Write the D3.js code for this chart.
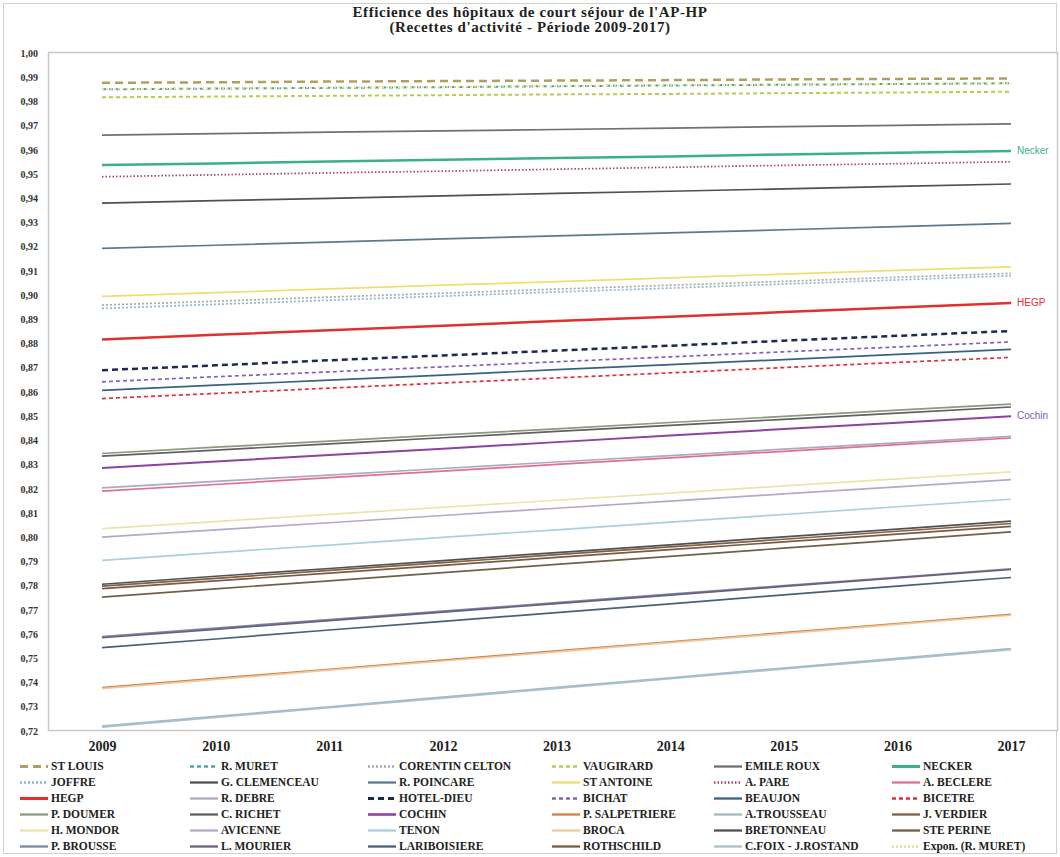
<!DOCTYPE html>
<html><head><meta charset="utf-8">
<script src="https://cdn.jsdelivr.net/npm/d3@7"></script>
<style>
body{margin:0;background:#fff;}
svg{display:block;font-family:"Liberation Serif","Times New Roman",serif;}
</style></head>
<body><svg id="c" width="1060" height="857"></svg>
<script>
const years = ["2009","2010","2011","2012","2013","2014","2015","2016","2017"];
const yTicks = [1.00,0.99,0.98,0.97,0.96,0.95,0.94,0.93,0.92,0.91,0.90,0.89,0.88,0.87,0.86,0.85,0.84,0.83,0.82,0.81,0.80,0.79,0.78,0.77,0.76,0.75,0.74,0.73,0.72];
const titleLines = ["Efficience des hôpitaux de court séjour de l'AP-HP","(Recettes d'activité - Période 2009-2017)"];
const names = ["ST LOUIS","R. MURET","CORENTIN CELTON","VAUGIRARD","EMILE ROUX","NECKER",
 "JOFFRE","G. CLEMENCEAU","R. POINCARE","ST ANTOINE","A. PARE","A. BECLERE",
 "HEGP","R. DEBRE","HOTEL-DIEU","BICHAT","BEAUJON","BICETRE",
 "P. DOUMER","C. RICHET","COCHIN","P. SALPETRIERE","A.TROUSSEAU","J. VERDIER",
 "H. MONDOR","AVICENNE","TENON","BROCA","BRETONNEAU","STE PERINE",
 "P. BROUSSE","L. MOURIER","LARIBOISIERE","ROTHSCHILD","C.FOIX - J.ROSTAND","Expon. (R. MURET)"];
const values = [
 [0.9877,0.9879,0.9882,0.9884,0.9886,0.9888,0.9891,0.9893,0.9895],
 [0.9850,0.9853,0.9856,0.9859,0.9863,0.9866,0.9869,0.9872,0.9875],
 [0.8959,0.8975,0.8992,0.9008,0.9025,0.9041,0.9057,0.9074,0.9090],
 [0.9817,0.9820,0.9823,0.9826,0.9829,0.9831,0.9834,0.9837,0.9840],
 [0.9661,0.9667,0.9673,0.9678,0.9684,0.9690,0.9696,0.9701,0.9707],
 [0.9537,0.9544,0.9552,0.9559,0.9566,0.9573,0.9581,0.9588,0.9595],
 [0.8945,0.8962,0.8979,0.8996,0.9013,0.9029,0.9046,0.9063,0.9080],
 [0.9380,0.9390,0.9400,0.9410,0.9420,0.9429,0.9439,0.9449,0.9459],
 [0.9193,0.9206,0.9219,0.9232,0.9245,0.9257,0.9270,0.9283,0.9296],
 [0.8995,0.9010,0.9026,0.9041,0.9056,0.9071,0.9087,0.9102,0.9117],
 [0.9489,0.9497,0.9505,0.9512,0.9520,0.9528,0.9536,0.9543,0.9551],
 [0.8191,0.8218,0.8246,0.8273,0.8301,0.8328,0.8355,0.8383,0.8410],
 [0.8817,0.8836,0.8855,0.8874,0.8893,0.8911,0.8930,0.8949,0.8968],
 [0.8204,0.8231,0.8257,0.8284,0.8311,0.8337,0.8364,0.8390,0.8417],
 [0.8690,0.8710,0.8731,0.8751,0.8771,0.8791,0.8812,0.8832,0.8852],
 [0.8642,0.8663,0.8683,0.8704,0.8725,0.8745,0.8766,0.8786,0.8807],
 [0.8607,0.8628,0.8649,0.8670,0.8692,0.8713,0.8734,0.8755,0.8776],
 [0.8573,0.8594,0.8616,0.8637,0.8658,0.8679,0.8701,0.8722,0.8743],
 [0.8346,0.8372,0.8397,0.8423,0.8448,0.8474,0.8499,0.8525,0.8550],
 [0.8335,0.8360,0.8386,0.8411,0.8437,0.8462,0.8487,0.8513,0.8538],
 [0.8286,0.8313,0.8340,0.8366,0.8393,0.8420,0.8447,0.8473,0.8500],
 [0.7379,0.7417,0.7455,0.7493,0.7531,0.7568,0.7606,0.7644,0.7682],
 [0.7220,0.7260,0.7300,0.7340,0.7380,0.7420,0.7460,0.7500,0.7540],
 [0.7798,0.7830,0.7863,0.7895,0.7928,0.7960,0.7992,0.8025,0.8057],
 [0.8036,0.8065,0.8095,0.8124,0.8153,0.8182,0.8212,0.8241,0.8270],
 [0.8001,0.8031,0.8060,0.8090,0.8120,0.8149,0.8179,0.8208,0.8238],
 [0.7905,0.7937,0.7968,0.8000,0.8031,0.8063,0.8094,0.8126,0.8157],
 [0.7375,0.7413,0.7451,0.7489,0.7527,0.7565,0.7602,0.7640,0.7678],
 [0.7806,0.7839,0.7871,0.7904,0.7937,0.7969,0.8002,0.8034,0.8067],
 [0.7753,0.7787,0.7820,0.7854,0.7888,0.7921,0.7955,0.7988,0.8022],
 [0.7590,0.7625,0.7660,0.7695,0.7730,0.7765,0.7800,0.7835,0.7870],
 [0.7585,0.7620,0.7656,0.7691,0.7726,0.7761,0.7797,0.7832,0.7867],
 [0.7544,0.7580,0.7617,0.7653,0.7689,0.7725,0.7762,0.7798,0.7834],
 [0.7788,0.7820,0.7852,0.7884,0.7917,0.7949,0.7981,0.8013,0.8045],
 [0.7216,0.7256,0.7296,0.7336,0.7376,0.7416,0.7456,0.7496,0.7536],
 [0.9851,0.9854,0.9857,0.9860,0.9864,0.9867,0.9870,0.9873,0.9876]
];
const annotations = [["Necker",5],["HEGP",12],["Cochin",20]];

// styles (kept separate from data)
const colors = ["#b0a060","#4aa8a0","#a8a8a8","#b8cc50","#707070","#3cb08a",
 "#8ab4d8","#505050","#5a7a90","#f0dc70","#b04060","#e07090",
 "#e03030","#b0a8c0","#1a2a50","#8060c0","#3a6080","#e03040",
 "#8a9a80","#606060","#9040a0","#d08040","#a0b8c8","#806040",
 "#ece4a8","#b8a8c8","#a8d0e0","#f0c8a0","#505058","#706048",
 "#7888a0","#6a6080","#4a6078","#7a5a40","#a8c0d0","#e8e090"];
const dashes = {0:"8,5",1:"4,3",2:"2,2",3:"4,3",6:"2,2",10:"1.5,2",14:"6,4",15:"4,3",17:"4,3",35:"2,2"};
const widths = {0:2.5,1:2,3:2,5:2.5,12:2.5,14:2.5,20:2};
const annotColors = {"Necker":"#3cb08a","HEGP":"#e03030","Cochin":"#8060c0"};

const svg = d3.select("#c");
const L = 48, R = 1058, T = 53, B = 731;
svg.append("rect").attr("x",3.5).attr("y",3.5).attr("width",1053).attr("height",850)
  .attr("fill","#fff").attr("stroke","#d0d0d0");
svg.append("rect").attr("x",L+0.5).attr("y",T-0.5).attr("width",R-L-1).attr("height",B-T)
  .attr("fill","#fff").attr("stroke","#c8c8c8").attr("stroke-width",1.5);

const x = d3.scalePoint().domain(years).range([102,1011]);
const y = d3.scaleLinear().domain([0.72,1.00]).range([B,T]);

svg.selectAll("text.title").data(titleLines).join("text").attr("class","title")
  .attr("x",530).attr("y",(d,i)=>17+i*15).attr("text-anchor","middle")
  .attr("font-weight","bold").attr("font-size",15).attr("letter-spacing",0.6)
  .attr("fill","#222").text(d=>d);

const yAxis = svg.append("g").attr("transform",`translate(${L},0)`)
  .call(d3.axisLeft(y).tickValues(yTicks).tickSize(0).tickPadding(10)
    .tickFormat(d=>d3.format(".2f")(d).replace(".",",")));
yAxis.select(".domain").remove();
yAxis.selectAll("text").attr("font-family","Liberation Serif").attr("font-weight","bold")
  .attr("font-size",10).attr("fill","#333");

const xAxis = svg.append("g").attr("transform",`translate(0,${B})`)
  .call(d3.axisBottom(x).tickSize(0).tickPadding(10));
xAxis.select(".domain").remove();
xAxis.selectAll("text").attr("font-family","Liberation Serif").attr("font-weight","bold")
  .attr("font-size",14).attr("fill","#222");

const line = d3.line().x((d,i)=>x(years[i])).y(d=>y(d));
const order = d3.range(names.length);
svg.append("g").selectAll("path").data(order).join("path")
  .attr("d",i=>line(values[i])).attr("fill","none")
  .attr("stroke",i=>colors[i]).attr("stroke-width",i=>widths[i]||1.7)
  .attr("stroke-dasharray",i=>dashes[i]||null);

svg.selectAll("text.ann").data(annotations).join("text").attr("class","ann")
  .attr("x",x("2017")+6).attr("y",d=>y(values[d[1]][8])+3)
  .attr("font-family","Liberation Sans Narrow, Liberation Sans, sans-serif").attr("font-size",10)
  .attr("fill",d=>annotColors[d[0]]).text(d=>d[0]);

const colX = [20,190,368,552,714,892];
const rowY = [770,786,802,818,834,850];
const lg = svg.append("g").selectAll("g").data(order).join("g")
  .attr("transform",i=>`translate(${colX[i%6]},${rowY[Math.floor(i/6)]})`);
lg.append("line").attr("x1",0).attr("x2",28).attr("y1",-3.5).attr("y2",-3.5)
  .attr("stroke",i=>colors[i]).attr("stroke-width",i=>(widths[i]||1.7)+0.6)
  .attr("stroke-dasharray",i=>dashes[i]||null);
lg.append("text").attr("x",31).attr("y",0).attr("font-weight","bold").attr("font-size",11.5)
  .attr("fill","#222").text(i=>names[i]);
</script></body></html>
